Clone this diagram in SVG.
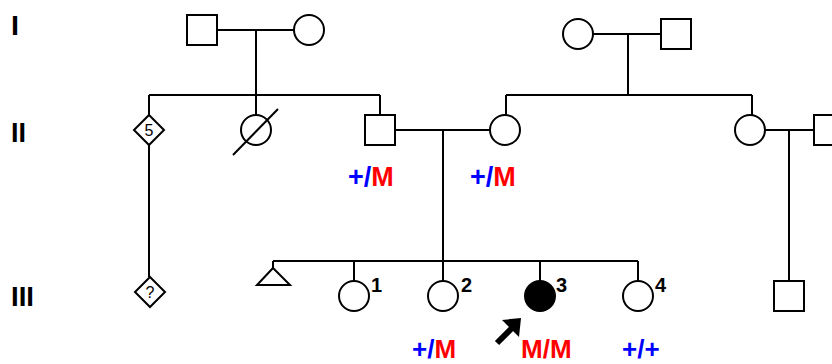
<svg xmlns="http://www.w3.org/2000/svg" width="832" height="364" viewBox="0 0 832 364">
<style>
.sym{fill:#fff;stroke:#000;stroke-width:2}
.aff{fill:#000;stroke:#000;stroke-width:2}
.ln{fill:none;stroke:#000;stroke-width:2}
.gen{font-family:"Liberation Sans",Arial,sans-serif;font-weight:bold;font-size:28px;fill:#000}
.num{font-family:"Liberation Sans",Arial,sans-serif;font-weight:bold;font-size:20px;fill:#000}
.in{font-family:"Liberation Sans",Arial,sans-serif;font-size:16px;fill:#000;text-anchor:middle}
.gt{font-family:"Liberation Sans",Arial,sans-serif;font-weight:bold;font-size:27px}
.gb{font-family:"Liberation Sans",Arial,sans-serif;font-weight:bold;font-size:26px}
.b{fill:#0000ff}
.r{fill:#ff0000}
</style>
<rect width="832" height="364" fill="#fff"/>
<g id="generations">
<text class="gen" x="11" y="35" textLength="8" lengthAdjust="spacingAndGlyphs">I</text>
<text class="gen" x="11" y="142" textLength="15" lengthAdjust="spacingAndGlyphs">II</text>
<text class="gen" x="11" y="306" textLength="23" lengthAdjust="spacingAndGlyphs">III</text>
</g>
<g id="connectors">
<path class="ln" d="M217 30H294M256 30V95M149 95H380M149 95V115M256 95V115M380 95V115"/>
<path class="ln" d="M593 34H661M628 34V95M506 95H752M506 95V115M752 95V115"/>
<path class="ln" d="M395 130H490M443 130V261M273 261H638M273 261V268M354 261V281M443 261V281M540 261V281M638 261V281"/>
<path class="ln" d="M765 130H814M789 130V281"/>
<path class="ln" d="M149 145V277"/>
</g>
<g id="I-1"><rect class="sym" x="187" y="15" width="30" height="30"/></g>
<g id="I-2"><circle class="sym" cx="309" cy="30" r="15"/></g>
<g id="I-3"><circle class="sym" cx="578" cy="34" r="15"/></g>
<g id="I-4"><rect class="sym" x="661" y="19" width="30" height="30"/></g>
<g id="II-1"><path class="sym" d="M149 115L164 130L149 145L134 130Z"/><text class="in" x="149" y="136">5</text></g>
<g id="II-2"><circle class="sym" cx="256" cy="130" r="15"/><path class="ln" d="M233 155L278 109"/></g>
<g id="II-3"><rect class="sym" x="365" y="115" width="30" height="30"/>
<text class="gt" x="348" y="186"><tspan class="b">+/</tspan><tspan class="r">M</tspan></text></g>
<g id="II-4"><circle class="sym" cx="505" cy="130" r="15"/>
<text class="gt" x="470" y="186"><tspan class="b">+/</tspan><tspan class="r">M</tspan></text></g>
<g id="II-5"><circle class="sym" cx="750" cy="130" r="15"/></g>
<g id="II-6"><rect class="sym" x="814" y="115" width="30" height="30"/></g>
<g id="III-0"><path class="sym" d="M273 268L290 285H257Z"/></g>
<g id="III-P"><path class="sym" d="M150 277L165 292L150 307L135 292Z"/><text class="in" x="150" y="298">?</text></g>
<g id="III-1"><circle class="sym" cx="354" cy="296" r="15"/><text class="num" x="371" y="292">1</text></g>
<g id="III-2"><circle class="sym" cx="443" cy="296" r="15"/><text class="num" x="461" y="292">2</text>
<text class="gb" x="412" y="358"><tspan class="b">+/</tspan><tspan class="r">M</tspan></text></g>
<g id="III-3"><circle class="aff" cx="540" cy="296" r="15"/><text class="num" x="556" y="292">3</text>
<text class="gb r" x="521" y="358">M/M</text>
<path d="M497 343L512 328" stroke="#000" stroke-width="6" fill="none"/>
<path d="M521 318L519 337L502 320Z" fill="#000"/></g>
<g id="III-4"><circle class="sym" cx="638" cy="296" r="15"/><text class="num" x="655" y="292">4</text>
<text class="gb b" x="622" y="358">+/+</text></g>
<g id="III-5"><rect class="sym" x="774" y="281" width="30" height="30"/></g>
</svg>
